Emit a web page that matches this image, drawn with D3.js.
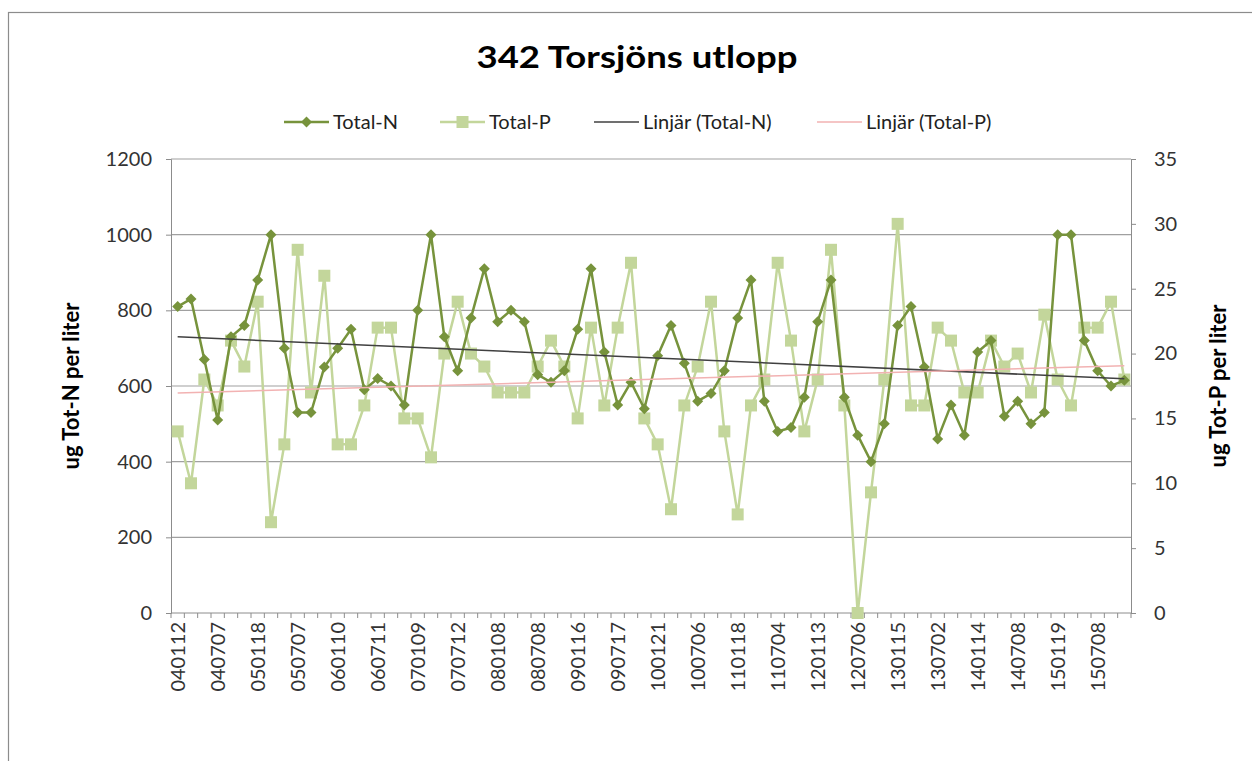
<!DOCTYPE html>
<html><head><meta charset="utf-8">
<script src="https://cdn.jsdelivr.net/npm/d3@7"></script>
<style>body{margin:0;background:#fff}svg{display:block}text{font-family:Lato,"Open Sans",sans-serif}</style>
</head><body><svg id="c" width="1252" height="761"></svg>
<script>
const title = "342 Torsjöns utlopp";
const tickLabels = ["040112","040707","050118","050707","060110","060711","070109","070712","080108","080708","090116","090717","100121","100706","110118","110704","120113","120706","130115","130702","140114","140708","150119","150708"];
const totalN = [810,830,670,510,730,760,880,1000,700,530,530,650,
 700,750,590,620,600,550,800,1000,730,640,780,910,
 770,800,770,630,610,640,750,910,690,550,610,540,
 680,760,660,560,580,640,780,880,560,480,490,570,
 770,880,570,470,400,500,760,810,650,460,550,470,
 690,720,520,560,500,530,1000,1000,720,640,600,615];
const totalP = [14,10,18,16,21,19,24,7,13,28,17,26,
 13,13,16,22,22,15,15,12,20,24,20,19,
 17,17,17,19,21,19,15,22,16,22,27,15,
 13,8,16,19,24,14,7.6,16,18,27,21,14,
 18,28,16,0,9.3,18,30,16,16,22,21,17,
 17,21,19,20,17,23,18,16,22,22,24,18];
const nTicks = [0,200,400,600,800,1000,1200];
const pTicks = [0,5,10,15,20,25,30,35];
const legendItems = ["Total-N","Total-P","Linjär (Total-N)","Linjär (Total-P)"];

const cN = "#77933C", cP = "#C3D69B", cTN = "#404040", cTP = "#F2B2B2";
const svg = d3.select("#c");
const L = 171, R = 1131, T = 159, B = 613;

svg.append("rect").attr("x",8.5).attr("y",12.5).attr("width",1400).attr("height",900)
  .attr("fill","#fff").attr("stroke","#8c8c8c").attr("stroke-width",1.2);

const idx = d3.range(totalN.length);
const x = d3.scaleBand().domain(idx).range([L,R]).padding(0);
const cx = i => x(i) + x.bandwidth()/2;
const yN = d3.scaleLinear().domain([0,1200]).range([B,T]);
const yP = d3.scaleLinear().domain([0,35]).range([B,T]);

// gridlines
svg.append("g").selectAll("line").data(nTicks.filter(d=>d>0)).join("line")
  .attr("x1",L).attr("x2",R).attr("y1",d=>yN(d)).attr("y2",d=>yN(d))
  .attr("stroke","#a0a0a0").attr("stroke-width",1.2);

// left axis
const gl = svg.append("g").attr("transform",`translate(${L},0)`)
  .call(d3.axisLeft(yN).tickValues(nTicks).tickFormat(d3.format("d")).tickSize(5).tickPadding(14));
gl.select(".domain").attr("stroke","#8c8c8c");
gl.selectAll(".tick line").attr("stroke","#8c8c8c");
gl.selectAll("text").attr("font-size",20).attr("fill","#333").style("font-family","Lato");

// right axis
const gr = svg.append("g").attr("transform",`translate(${R},0)`)
  .call(d3.axisRight(yP).tickValues(pTicks).tickSize(5).tickPadding(18));
gr.select(".domain").attr("stroke","#8c8c8c");
gr.selectAll(".tick line").attr("stroke","#8c8c8c");
gr.selectAll("text").attr("font-size",20).attr("fill","#333").style("font-family","Lato");

// x axis line + ticks
svg.append("line").attr("x1",L).attr("x2",R).attr("y1",B).attr("y2",B).attr("stroke","#8c8c8c");
svg.append("g").selectAll("line").data(d3.range(totalN.length+1)).join("line")
  .attr("x1",d=>L + d*x.step()).attr("x2",d=>L + d*x.step()).attr("y1",B).attr("y2",B+5)
  .attr("stroke","#8c8c8c");
svg.append("g").selectAll("text").data(tickLabels).join("text")
  .attr("transform",(d,k)=>`translate(${cx(k*3)},${B+9}) rotate(-90)`)
  .attr("text-anchor","end").attr("dy","0.36em").attr("font-size",20).attr("fill","#333")
  .text(d=>d);

// series P
const lineP = d3.line().x(i=>cx(i)).y(i=>yP(totalP[i]));
svg.append("path").attr("d",lineP(idx)).attr("fill","none").attr("stroke",cP).attr("stroke-width",2.5);
svg.append("g").selectAll("rect").data(idx).join("rect")
  .attr("x",i=>cx(i)-6).attr("y",i=>yP(totalP[i])-6).attr("width",12).attr("height",12).attr("fill",cP);

// series N
const lineN = d3.line().x(i=>cx(i)).y(i=>yN(totalN[i]));
svg.append("path").attr("d",lineN(idx)).attr("fill","none").attr("stroke",cN).attr("stroke-width",2.5);
const diamond = (px,py,r)=>`M${px},${py-r}L${px+r},${py}L${px},${py+r}L${px-r},${py}Z`;
svg.append("g").selectAll("path").data(idx).join("path")
  .attr("d",i=>diamond(cx(i),yN(totalN[i]),5.5)).attr("fill",cN);

// trend lines (least squares over index 1..n)
function reg(vals){
  const xs = vals.map((v,i)=>i+1);
  const mx = d3.mean(xs), my = d3.mean(vals);
  const b = d3.sum(xs.map((xv,i)=>(xv-mx)*(vals[i]-my)))/d3.sum(xs.map(xv=>(xv-mx)**2));
  return k => my + b*((k+1)-mx);
}
const fN = reg(totalN), fP = reg(totalP);
const last = totalN.length-1;
svg.append("line").attr("x1",cx(0)).attr("x2",cx(last)).attr("y1",yN(fN(0))).attr("y2",yN(fN(last)))
  .attr("stroke",cTN).attr("stroke-width",1.5);
svg.append("line").attr("x1",cx(0)).attr("x2",cx(last)).attr("y1",yP(fP(0))).attr("y2",yP(fP(last)))
  .attr("stroke",cTP).attr("stroke-width",1.5);

// titles
svg.append("text").attr("x",637).attr("y",68).attr("text-anchor","middle")
  .attr("font-size",31).attr("font-weight","bold").attr("fill","#000")
  .attr("textLength",321).attr("lengthAdjust","spacingAndGlyphs").text(title);
svg.append("text").attr("transform",`translate(79,${(T+B)/2}) rotate(-90)`).attr("text-anchor","middle")
  .attr("font-size",22).attr("font-weight","bold").attr("fill","#000").text("ug Tot-N per liter");
svg.append("text").attr("transform",`translate(1226,${(T+B)/2}) rotate(-90)`).attr("text-anchor","middle")
  .attr("font-size",22).attr("font-weight","bold").attr("fill","#000").text("ug Tot-P per liter");

// legend
const lg = svg.append("g");
const legX = [284, 440, 594, 817];
legendItems.forEach((name,k)=>{
  const x0 = legX[k], yy = 122, col = [cN,cP,cTN,cTP][k];
  lg.append("line").attr("x1",x0).attr("x2",x0+45).attr("y1",yy).attr("y2",yy)
    .attr("stroke",col).attr("stroke-width",k<2?2.5:1.5);
  if(k===0) lg.append("path").attr("d",diamond(x0+22.5,yy,5.5)).attr("fill",cN);
  if(k===1) lg.append("rect").attr("x",x0+16.5).attr("y",yy-6).attr("width",12).attr("height",12).attr("fill",cP);
  lg.append("text").attr("x",x0+49).attr("y",yy).attr("dy","0.35em").attr("font-size",20).attr("fill","#222").text(name);
});
</script></body></html>
